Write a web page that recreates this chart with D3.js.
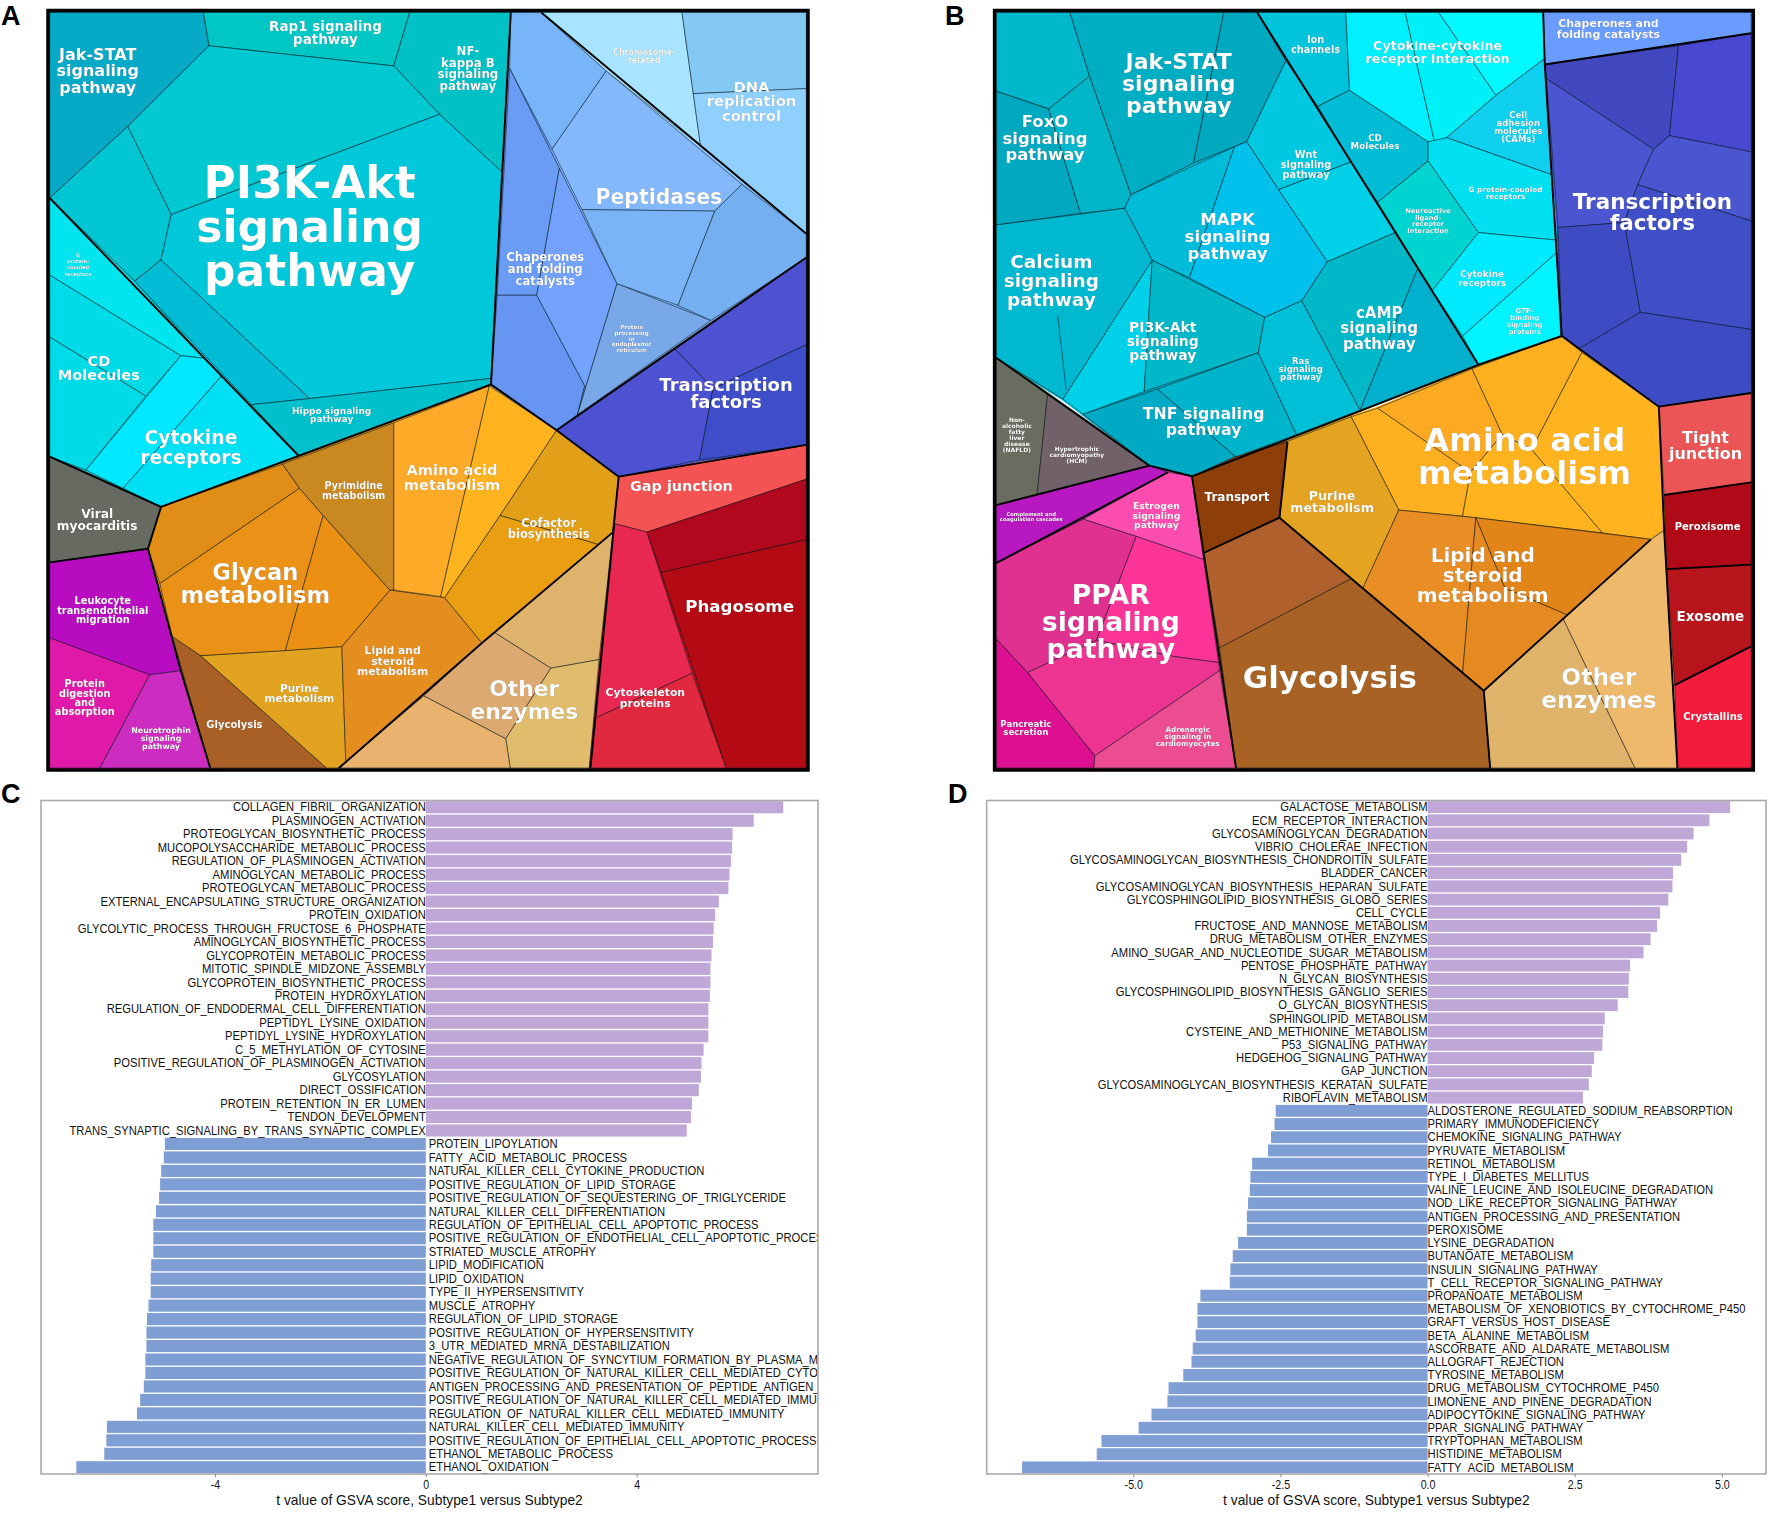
<!DOCTYPE html>
<html><head><meta charset="utf-8">
<script src="https://cdn.jsdelivr.net/npm/d3@7"></script>
<style>
html,body{margin:0;padding:0;background:#fff}
svg{display:block}
.tm text{font-family:"DejaVu Sans";font-weight:700;fill:#fff;text-anchor:middle;dominant-baseline:central}
.tmlabels{filter:drop-shadow(.5px .8px .6px rgba(0,0,0,.5))}
.bar text{font-family:"Liberation Sans";fill:#111}
</style></head><body>
<svg id="fig" width="1772" height="1513"></svg>
<script>
// ---------- Panel A: proteomap cells (vertices in map units) ----------
const cellsA=[
[88,24,360,24,370,90,226,250,88,392],[360,24,725,24,697,130,370,90],[725,24,904,24,888,340,778,226,697,130],
[370,90,697,130,778,226,303,425,226,250],[226,250,303,425,285,515,238,557,88,392],
[303,425,778,226,888,340,869,750,548,790,285,515],[285,515,548,790,445,802,238,557],
[445,802,548,790,869,750,869,762,528,903],
[88,392,238,557,362,710,320,705,88,545],[88,545,320,705,258,785,88,668],[88,668,258,785,152,932,88,905],
[320,705,362,710,392,745,218,968,152,932],[392,745,528,903,285,1005,218,968],
[88,905,285,1005,262,1088,88,1115],[88,1115,262,1088,320,1330,265,1338,88,1265],
[88,1265,265,1338,177,1523,88,1523],[265,1338,320,1330,372,1523,177,1523],
[305,1262,355,1300,578,1523,372,1523],[355,1300,505,1290,605,1282,612,1511,598,1523,578,1523],
[605,1282,690,1170,787,1185,853,1275,750,1380,612,1511],
[285,1005,500,920,530,968,283,1157,262,1088],[283,1157,530,968,572,1022,505,1290,355,1300,305,1262],
[572,1022,690,1170,605,1282,505,1290],[500,920,697,838,697,1170,690,1170,572,1022,530,968],
[697,838,866,765,780,1183,697,1170],[866,765,985,853,885,1022,787,1185,780,1183],
[985,853,1095,945,1085,1055,1060,1080,885,1022],[885,1022,1060,1080,853,1275,787,1185],
[875,1254,1085,1055,1060,1308,975,1325],[875,1254,975,1325,895,1465,750,1380,853,1275],
[975,1325,1060,1308,1043,1523,903,1523,895,1465],[750,1380,895,1465,903,1523,598,1523,612,1511],
[1095,945,1427,882,1427,950,1145,1055,1087,1038],[1087,1038,1145,1055,1225,1335,1052,1425],
[1052,1425,1225,1335,1285,1523,1043,1523],[1145,1055,1427,950,1427,1070,1170,1135],
[1170,1135,1427,1070,1427,1523,1285,1523],
[985,853,1195,692,1262,770,1238,912,1095,945],[1195,692,1427,510,1427,683,1262,770],
[1262,770,1427,683,1427,882,1238,912],
[904,24,958,24,1073,140,977,295,902,135],[902,135,990,333,950,585,880,585],
[880,585,950,585,1035,765,1022,822,985,853,869,762],[990,333,1092,562,1022,822,1035,765,950,585],
[1092,562,1258,635,1022,822],[1073,140,1313,365,1265,418,1030,415,977,295],
[1030,415,1265,418,1200,605,1092,562],[1313,365,1427,463,1427,510,1258,635,1200,605,1265,418],
[958,24,1207,24,1227,185,1240,290,1073,140],[1207,24,1427,24,1427,175,1227,185],
[1227,185,1427,175,1427,463,1240,290]];
const fillsA=["#06a9c6","#00c6c4","#00c2c6","#00c9d2","#00c5d3","#00c8db","#00bcd4","#00c0cc",
"#00e5ee","#00dbe8","#00dbe8","#00e8ff","#00e0f5","#666a60","#b80cc0","#e01aa8","#cc2cc0","#a86026",
"#e2a420","#e58e20","#e18e18","#ea9218","#ec9014","#c98820","#fdaa28","#ffb31e","#e2a018","#ea9f12",
"#deb46c","#dcaa70","#e0bc6c","#e9b26e","#f45353","#e82850","#e0283e","#b2081e","#b30a14",
"#4c52d2","#4c52d0","#3e4ec8","#78b4f8","#6a9cf5","#6796f2","#72a2fc","#78a8e8","#84b8fc","#7ab4f6",
"#74b0f0","#a8e4ff","#84c8f4","#90d0ff"];
const edgesA=[[904,24,869,762,985,853,1095,945,1085,1055,853,1275,600,1523],[869,762,285,1005,88,905],
[285,1005,262,1088,88,1115],[262,1088,320,1330,372,1523],[985,853,1427,510],[1095,945,1427,882],
[1087,1038,1045,1523],[1427,463,958,24],[88,392,528,903]];
const thinA=[];
const labelsA=[["Jak-STAT","signaling","pathway"],["Rap1 signaling","pathway"],["NF-","kappa B","signaling","pathway"],
["PI3K-Akt","signaling","pathway"],["G","protein-","coupled","receptors"],["CD","Molecules"],["Cytokine","receptors"],
["Hippo signaling","pathway"],["Viral","myocarditis"],["Leukocyte","transendothelial","migration"],
["Protein","digestion","and","absorption"],["Neurotrophin","signaling","pathway"],["Glycolysis"],["Purine","metabolism"],
["Lipid and","steroid","metabolism"],["Glycan","metabolism"],["Pyrimidine","metabolism"],["Amino acid","metabolism"],
["Cofactor","biosynthesis"],["Other","enzymes"],["Gap junction"],["Phagosome"],["Cytoskeleton","proteins"],
["Transcription","factors"],["Chaperones","and folding","catalysts"],["Peptidases"],
["Protein","processing","in","endoplasmic","reticulum"],["Chromosome-","related"],["DNA","replication","control"]];
// [centre x, first line y, last line y, font px]
const labelAtA=[[173,108,172,16],[576,50,77,13.5],[828,100,170,11.8],[548,362,536,44],[138,505,542,5],[175,715,742,14.6],
[338,868,906,18.8],[587,814,830,9],[172,1019,1042,12.2],[182,1191,1229,9.8],[150,1356,1411,9.8],[285,1449,1481,7.9],
[415,1436,1436,10],[530,1364,1384,10.6],[695,1290,1332,10.8],[452,1134,1180,22.7],[626,962,982,9.6],[800,931,960,14.6],
[971,1037,1059,11.5],[928,1365,1410,21.8],[1206,964,964,14.4],[1309,1201,1201,16.7],[1142,1374,1396,10.8],[1285,762,796,18],
[965,510,556,11.7],[1166,391,391,20.4],[1118,648,694,5.6],[1140,103,119,8],[1330,171,228,14.8]];

// ---------- Panel B ----------
const cellsB=[
[106,24,245,24,282,150,205,215,106,180],[106,180,205,215,265,422,106,445],[205,215,282,150,360,385,348,412,265,422],
[245,24,535,24,478,322,360,385,282,150],[535,24,598,24,652,120,578,280,478,322],[598,24,765,24,772,178,712,210,652,120],
[652,120,712,210,775,320,638,375,578,280],[638,375,775,320,858,460,730,518],
[348,412,360,385,555,290,470,550,400,515],[555,290,578,280,638,375,730,518,682,595,612,628,470,550],
[106,445,348,412,400,515,232,790,106,708],[400,515,385,775,270,820,232,790],[400,515,612,628,600,698,385,775],
[270,820,410,770,558,905,475,943,395,922],[410,770,600,698,672,860,558,905],[612,628,682,595,792,812,672,860,600,698],
[682,595,730,518,858,460,901,530,792,812],[901,530,1015,722,792,812],
[712,210,772,178,920,280,920,318,825,400,775,320],[825,400,920,318,1015,460,928,575],
[765,24,877,24,932,280,920,280,772,178],[877,24,940,24,1048,188,955,272,932,280],[940,24,1137,24,1140,115,1048,188],
[1048,188,1140,115,1152,345,955,272],[920,280,955,272,1152,345,1162,475,1015,460,920,318],
[1015,460,1162,475,1162,500,985,665,928,575],[1162,500,1170,665,1015,722,985,665],
[1137,24,1529,24,1529,65,1140,127],
[1140,127,1392,90,1375,268,1345,295,1143,155],[1392,90,1529,65,1529,300,1375,268],
[1143,155,1345,295,1315,365,1290,440,1165,450],[1345,295,1375,268,1529,300,1529,437,1315,365],
[1165,450,1290,440,1320,618,1205,690,1172,665],[1290,440,1315,365,1529,437,1529,652,1320,618],
[1205,690,1320,618,1529,652,1529,778,1355,805],
[1355,805,1529,778,1529,955,1365,980],[1365,980,1529,955,1529,1118,1370,1127],[1370,1127,1529,1118,1529,1280,1385,1357],
[1385,1357,1529,1280,1529,1521,1390,1521],
[775,825,825,808,1000,935,985,1022,865,1010],[825,808,1003,730,1060,860,1000,935],
[1003,730,1172,665,1210,698,1115,890,1060,860],[1210,698,1355,805,1365,1050,1340,1068,1248,1055,1115,890],
[1000,935,1060,860,1115,890,1248,1055,985,1022],
[652,875,775,825,865,1010,797,1165,640,1025],[475,943,555,905,655,875,640,1025,497,1095],
[865,1010,1010,1025,985,1335,797,1165],[1010,1025,1340,1068,1183,1218,1065,1165],
[1010,1025,1065,1165,1183,1218,1025,1368,985,1335],
[1025,1368,1175,1226,1310,1521,1037,1521],[1175,1226,1340,1068,1365,1050,1390,1521,1310,1521],
[497,1095,640,1025,775,1146,527,1283],[527,1283,775,1146,797,1165,1025,1368,1037,1521,558,1521],
[106,708,203,780,183,980,106,1000],[203,780,395,922,183,980],[106,1000,183,980,395,922,430,935,270,1028,106,1115],
[430,935,475,943,497,1108,370,1062,270,1028],[106,1115,270,1028,370,1062,295,1268,165,1332,106,1265],
[370,1062,497,1108,525,1312,440,1300,295,1268],[165,1332,295,1268,440,1300,525,1312,527,1328,292,1497],
[106,1265,165,1332,292,1497,290,1521,106,1521],[527,1328,558,1521,290,1521,292,1497]];
const fillsB=["#00b8cc","#00a8c0","#00b6c8","#00aec4","#00a8c0","#00c4dc","#00c8e0","#00d0e8","#00bcd8","#00c0ec",
"#00b8d0","#00d0e8","#00b8c8","#00aac4","#00b4cc","#00c0d8","#00b8c8","#00b0cc","#00bcd4","#00d4d0",
"#00f0ff","#00f0f8","#00faff","#10d0f0","#00e0f0","#00eaff","#00f4ff","#6a9cff",
"#4248c0","#4848d0","#4c55d0","#4a55d0","#3e4cc4","#3f4fc8","#3e4cc4","#ec5555","#b00a18","#b8141c","#f41c3c",
"#ffb020","#fdaa22","#ffb020","#ffb31e","#ffb41e","#e4a422","#8e3e08","#e88e24","#e28518","#e58a20",
"#dfb36a","#efb96c","#b0602c","#a86224","#6a6c60","#706268","#b818c0","#fc4cb0","#e03090","#fc3498","#ec3490",
"#dc1090","#ec4c90"];
const edgesB=[[106,708,395,922,475,943,1015,722,1172,665,1355,805,1365,1050,1390,1521],[1137,24,1140,127,1172,665],
[1140,127,1529,65],[1355,805,1529,778],[1365,980,1529,955],[1370,1127,1529,1118],[1385,1357,1529,1280],
[475,943,497,1095,558,1521],[497,1095,640,1025,1025,1368,1037,1521],[1025,1368,1340,1068],[395,922,106,1000],
[430,935,106,1115],[640,1025,655,875],[598,24,1015,722]];
const thinB=[[222,625,238,772]];
const labelsB=[["Jak-STAT","signaling","pathway"],["FoxO","signaling","pathway"],["Ion","channels"],
["Cytokine-cytokine","receptor interaction"],["Chaperones and","folding catalysts"],["Cell","adhesion","molecules","(CAMs)"],
["CD","Molecules"],["Wnt","signaling","pathway"],["G protein-coupled","receptors"],["Neuroactive","ligand-","receptor","interaction"],
["MAPK","signaling","pathway"],["Calcium","signaling","pathway"],["Transcription","factors"],["Cytokine","receptors"],
["GTP-","binding","signaling","proteins"],["cAMP","signaling","pathway"],["PI3K-Akt","signaling","pathway"],
["Ras","signaling","pathway"],["TNF signaling","pathway"],["Non-","alcoholic","fatty","liver","disease","(NAFLD)"],
["Hypertrophic","cardiomyopathy","(HCM)"],["Amino acid","metabolism"],["Tight","junction"],["Transport"],["Purine","metabolism"],
["Estrogen","signaling","pathway"],["Complement and","coagulation cascades"],["Peroxisome"],["Lipid and","steroid","metabolism"],
["Exosome"],["PPAR","signaling","pathway"],["Glycolysis"],["Other","enzymes"],["Crystallins"],["Pancreatic","secretion"],
["Adrenergic","signaling in","cardiomyocytes"]];
const labelAtB=[[450,122,208,22],[198,240,306,16.5],[708,78,98,9.8],[938,90,116,12.7],[1260,46,68,11],[1090,227,275,8.5],
[820,272,289,8.7],[690,306,344,9.8],[1066,374,388,7.3],[920,418,457,6.7],[542,434,500,16.7],[210,518,592,18.5],[1343,399,441,21.5],
[1022,542,559,8.9],[1102,616,657,6.9],[828,620,680,15.1],[420,648,702,14],[680,714,746,8.6],[497,819,850,15.8],[145,830,889,6],
[258,887,911,6],[1102,871,936,32.3],[1443,866,897,16],[560,985,985,12],[739,981,1005,12.7],[408,1001,1039,9.3],[172,1017,1028,5.2],
[1447,1043,1043,10],[1023,1098,1178,20],[1452,1220,1220,13.5],[322,1177,1285,26.8],[735,1340,1340,31],[1242,1340,1386,23.4],
[1457,1418,1418,10],[162,1433,1449,8.6],[467,1444,1473,7.2]];

// ---------- Panel C ----------
const termsC=["COLLAGEN_FIBRIL_ORGANIZATION","PLASMINOGEN_ACTIVATION","PROTEOGLYCAN_BIOSYNTHETIC_PROCESS","MUCOPOLYSACCHARIDE_METABOLIC_PROCESS",
"REGULATION_OF_PLASMINOGEN_ACTIVATION","AMINOGLYCAN_METABOLIC_PROCESS","PROTEOGLYCAN_METABOLIC_PROCESS","EXTERNAL_ENCAPSULATING_STRUCTURE_ORGANIZATION",
"PROTEIN_OXIDATION","GLYCOLYTIC_PROCESS_THROUGH_FRUCTOSE_6_PHOSPHATE","AMINOGLYCAN_BIOSYNTHETIC_PROCESS","GLYCOPROTEIN_METABOLIC_PROCESS",
"MITOTIC_SPINDLE_MIDZONE_ASSEMBLY","GLYCOPROTEIN_BIOSYNTHETIC_PROCESS","PROTEIN_HYDROXYLATION","REGULATION_OF_ENDODERMAL_CELL_DIFFERENTIATION",
"PEPTIDYL_LYSINE_OXIDATION","PEPTIDYL_LYSINE_HYDROXYLATION","C_5_METHYLATION_OF_CYTOSINE","POSITIVE_REGULATION_OF_PLASMINOGEN_ACTIVATION",
"GLYCOSYLATION","DIRECT_OSSIFICATION","PROTEIN_RETENTION_IN_ER_LUMEN","TENDON_DEVELOPMENT","TRANS_SYNAPTIC_SIGNALING_BY_TRANS_SYNAPTIC_COMPLEX",
"PROTEIN_LIPOYLATION","FATTY_ACID_METABOLIC_PROCESS","NATURAL_KILLER_CELL_CYTOKINE_PRODUCTION","POSITIVE_REGULATION_OF_LIPID_STORAGE",
"POSITIVE_REGULATION_OF_SEQUESTERING_OF_TRIGLYCERIDE","NATURAL_KILLER_CELL_DIFFERENTIATION","REGULATION_OF_EPITHELIAL_CELL_APOPTOTIC_PROCESS",
"POSITIVE_REGULATION_OF_ENDOTHELIAL_CELL_APOPTOTIC_PROCESS","STRIATED_MUSCLE_ATROPHY","LIPID_MODIFICATION","LIPID_OXIDATION","TYPE_II_HYPERSENSITIVITY",
"MUSCLE_ATROPHY","REGULATION_OF_LIPID_STORAGE","POSITIVE_REGULATION_OF_HYPERSENSITIVITY","3_UTR_MEDIATED_MRNA_DESTABILIZATION",
"NEGATIVE_REGULATION_OF_SYNCYTIUM_FORMATION_BY_PLASMA_MEMBRANE_DOWN_REGULATION","POSITIVE_REGULATION_OF_NATURAL_KILLER_CELL_MEDIATED_CYTOTOXICITY",
"ANTIGEN_PROCESSING_AND_PRESENTATION_OF_PEPTIDE_ANTIGEN_VIA_MHC_CLASS_I","POSITIVE_REGULATION_OF_NATURAL_KILLER_CELL_MEDIATED_IMMUNITY",
"REGULATION_OF_NATURAL_KILLER_CELL_MEDIATED_IMMUNITY","NATURAL_KILLER_CELL_MEDIATED_IMMUNITY","POSITIVE_REGULATION_OF_EPITHELIAL_CELL_APOPTOTIC_PROCESS",
"ETHANOL_METABOLIC_PROCESS","ETHANOL_OXIDATION"];
const valuesC=[6.78,6.22,5.82,5.81,5.79,5.76,5.74,5.56,5.49,5.46,5.45,5.42,5.40,5.40,5.39,5.36,5.36,5.36,5.27,5.23,5.22,5.18,5.05,5.03,4.95,
-4.95,-4.97,-5.02,-5.04,-5.06,-5.12,-5.17,-5.17,-5.17,-5.21,-5.22,-5.22,-5.26,-5.29,-5.30,-5.30,-5.32,-5.32,-5.35,-5.42,-5.48,-6.05,-6.06,-6.10,-6.63];
const ticksC=[-4,0,4];

// ---------- Panel D ----------
const termsD=["GALACTOSE_METABOLISM","ECM_RECEPTOR_INTERACTION","GLYCOSAMINOGLYCAN_DEGRADATION","VIBRIO_CHOLERAE_INFECTION",
"GLYCOSAMINOGLYCAN_BIOSYNTHESIS_CHONDROITIN_SULFATE","BLADDER_CANCER","GLYCOSAMINOGLYCAN_BIOSYNTHESIS_HEPARAN_SULFATE","GLYCOSPHINGOLIPID_BIOSYNTHESIS_GLOBO_SERIES",
"CELL_CYCLE","FRUCTOSE_AND_MANNOSE_METABOLISM","DRUG_METABOLISM_OTHER_ENZYMES","AMINO_SUGAR_AND_NUCLEOTIDE_SUGAR_METABOLISM","PENTOSE_PHOSPHATE_PATHWAY",
"N_GLYCAN_BIOSYNTHESIS","GLYCOSPHINGOLIPID_BIOSYNTHESIS_GANGLIO_SERIES","O_GLYCAN_BIOSYNTHESIS","SPHINGOLIPID_METABOLISM","CYSTEINE_AND_METHIONINE_METABOLISM",
"P53_SIGNALING_PATHWAY","HEDGEHOG_SIGNALING_PATHWAY","GAP_JUNCTION","GLYCOSAMINOGLYCAN_BIOSYNTHESIS_KERATAN_SULFATE","RIBOFLAVIN_METABOLISM",
"ALDOSTERONE_REGULATED_SODIUM_REABSORPTION","PRIMARY_IMMUNODEFICIENCY","CHEMOKINE_SIGNALING_PATHWAY","PYRUVATE_METABOLISM","RETINOL_METABOLISM","TYPE_I_DIABETES_MELLITUS",
"VALINE_LEUCINE_AND_ISOLEUCINE_DEGRADATION","NOD_LIKE_RECEPTOR_SIGNALING_PATHWAY","ANTIGEN_PROCESSING_AND_PRESENTATION","PEROXISOME","LYSINE_DEGRADATION",
"BUTANOATE_METABOLISM","INSULIN_SIGNALING_PATHWAY","T_CELL_RECEPTOR_SIGNALING_PATHWAY","PROPANOATE_METABOLISM","METABOLISM_OF_XENOBIOTICS_BY_CYTOCHROME_P450",
"GRAFT_VERSUS_HOST_DISEASE","BETA_ALANINE_METABOLISM","ASCORBATE_AND_ALDARATE_METABOLISM","ALLOGRAFT_REJECTION","TYROSINE_METABOLISM","DRUG_METABOLISM_CYTOCHROME_P450",
"LIMONENE_AND_PINENE_DEGRADATION","ADIPOCYTOKINE_SIGNALING_PATHWAY","PPAR_SIGNALING_PATHWAY","TRYPTOPHAN_METABOLISM","HISTIDINE_METABOLISM","FATTY_ACID_METABOLISM"];
const valuesD=[5.14,4.79,4.52,4.41,4.31,4.17,4.16,4.09,3.95,3.90,3.79,3.67,3.44,3.42,3.41,3.23,3.01,2.98,2.97,2.83,2.79,2.74,2.64,
-2.58,-2.60,-2.66,-2.71,-2.98,-3.01,-3.02,-3.05,-3.07,-3.07,-3.22,-3.31,-3.35,-3.36,-3.86,-3.91,-3.91,-3.94,-3.99,-4.01,-4.15,-4.40,-4.42,-4.69,-4.91,-5.54,-5.62,-6.89];
const ticksD=[-5,-2.5,0,2.5,5];

const axisTitle="t value of GSVA score, Subtype1 versus Subtype2";
const svg=d3.select("#fig");
const defs=svg.append("defs");

function proteomap(id,cells,fills,edges,thin,labels,at,domX,domY,rngX,rngY){
  const x=d3.scaleLinear().domain(domX).range(rngX), y=d3.scaleLinear().domain(domY).range(rngY);
  const pts=a=>d3.pairs(a).filter((_,i)=>i%2==0).map(p=>[x(p[0]),y(p[1])]);
  const path=d3.line();
  defs.append("clipPath").attr("id",id).append("rect").attr("x",rngX[0]).attr("y",rngY[0])
    .attr("width",rngX[1]-rngX[0]).attr("height",rngY[1]-rngY[0]);
  const g=svg.append("g").attr("class","tm");
  const m=g.append("g").attr("clip-path",`url(#${id})`);
  m.selectAll("path.u").data(cells).join("path").attr("class","u")
    .attr("d",c=>path(pts(c))+"Z").attr("fill",(c,i)=>fills[i])
    .attr("stroke",(c,i)=>fills[i]).attr("stroke-width",3).attr("stroke-linejoin","round");
  m.selectAll("path.c").data(cells).join("path").attr("class","c")
    .attr("d",c=>path(pts(c))+"Z").attr("fill",(c,i)=>fills[i])
    .attr("stroke","#0a1a20").attr("stroke-width",.55).attr("stroke-linejoin","round");
  m.selectAll("path.t").data(thin).join("path").attr("class","t")
    .attr("d",c=>path(pts(c))).attr("fill","none").attr("stroke","#0a1a20").attr("stroke-width",.55);
  m.selectAll("path.e").data(edges).join("path").attr("class","e")
    .attr("d",c=>path(pts(c))).attr("fill","none").attr("stroke","#000").attr("stroke-width",1.9).attr("stroke-linejoin","round");
  g.append("rect").attr("x",rngX[0]).attr("y",rngY[0]).attr("width",rngX[1]-rngX[0]).attr("height",rngY[1]-rngY[0])
    .attr("fill","none").attr("stroke","#000").attr("stroke-width",3.5);
  const t=g.append("g").attr("class","tmlabels");
  labels.forEach((lines,i)=>{
    const [cx,y0,y1,fs]=at[i];
    lines.forEach((s,k)=>{
      const yy=lines.length>1?y0+(y1-y0)*k/(lines.length-1):y0;
      t.append("text").attr("x",x(cx)).attr("y",y(yy)).attr("font-size",fs).text(s);
    });
  });
}
proteomap("clipA",cellsA,fillsA,edgesA,thinA,labelsA,labelAtA,[85,1430],[20,1527],[48,808],[10.5,770]);
proteomap("clipB",cellsB,fillsB,edgesB,thinB,labelsB,labelAtB,[103,1533],[20,1525],[994.6,1753.3],[10.5,770]);

function barPanel(id,terms,values,ticks,fmt,domain,rngX){
  const top=800.5,bot=1474;
  const x=d3.scaleLinear().domain(domain).range(rngX);
  const y=d3.scaleBand().domain(terms).range([top,bot]).paddingInner(.1).paddingOuter(.05);
  defs.append("clipPath").attr("id",id).append("rect").attr("x",rngX[0]).attr("y",top).attr("width",rngX[1]-rngX[0]).attr("height",bot-top);
  const g=svg.append("g").attr("class","bar");
  g.append("g").selectAll("rect").data(terms).join("rect")
    .attr("x",(d,i)=>Math.min(x(0),x(values[i]))).attr("y",d=>y(d)).attr("height",y.bandwidth())
    .attr("width",(d,i)=>Math.abs(x(values[i])-x(0))).attr("fill",(d,i)=>values[i]>0?"#bfa8d8":"#7f9fd4");
  const sx=.905;
  g.append("g").attr("clip-path",`url(#${id})`).selectAll("text").data(terms).join("text")
    .attr("font-size",12.4).attr("text-anchor",(d,i)=>values[i]>0?"end":"start").attr("dominant-baseline","central")
    .attr("transform",(d,i)=>`translate(${x(0)+(values[i]>0?0:(id=="clipC"?3:0))},${y(d)+y.bandwidth()/2}) scale(${sx},1)`).text(d=>d);
  g.append("rect").attr("x",rngX[0]).attr("y",top).attr("width",rngX[1]-rngX[0]).attr("height",bot-top)
    .attr("fill","none").attr("stroke","#aaa").attr("stroke-width",1.6);
  const ax=g.append("g").attr("transform",`translate(0,${bot})`)
    .call(d3.axisBottom(x).tickValues(ticks).tickSize(3).tickPadding(3).tickFormat(v=>fmt(v).replace("\u2212","-")));
  ax.select(".domain").remove();
  ax.selectAll("line").attr("stroke","#888");
  ax.selectAll(".tick text").attr("fill","#666").attr("font-size",12.5).style("font-family","Liberation Sans").attr("transform","scale(.85,1)");
  g.append("text").attr("font-size",15).attr("text-anchor","middle").attr("dominant-baseline","central")
    .attr("transform",`translate(${(rngX[0]+rngX[1])/2},1500) scale(.92,1)`).attr("fill","#222").text(axisTitle);
}
barPanel("clipC",termsC,valuesC,ticksC,d3.format("d"),[-7.3,7.44],[41,818]);
barPanel("clipD",termsD,valuesD,ticksD,d3.format(".1f"),[-7.49,5.75],[986.7,1766]);

const letters=["A","B","C","D"], letterX=[1,945,1,948], letterY=[25,25,803,803];
svg.selectAll("text.pl").data(letters).join("text").attr("class","pl").attr("x",(d,i)=>letterX[i]).attr("y",(d,i)=>letterY[i])
  .attr("font-family","Liberation Sans").attr("font-weight",700).attr("font-size",27).attr("fill","#000").text(d=>d);
</script>
</body></html>
